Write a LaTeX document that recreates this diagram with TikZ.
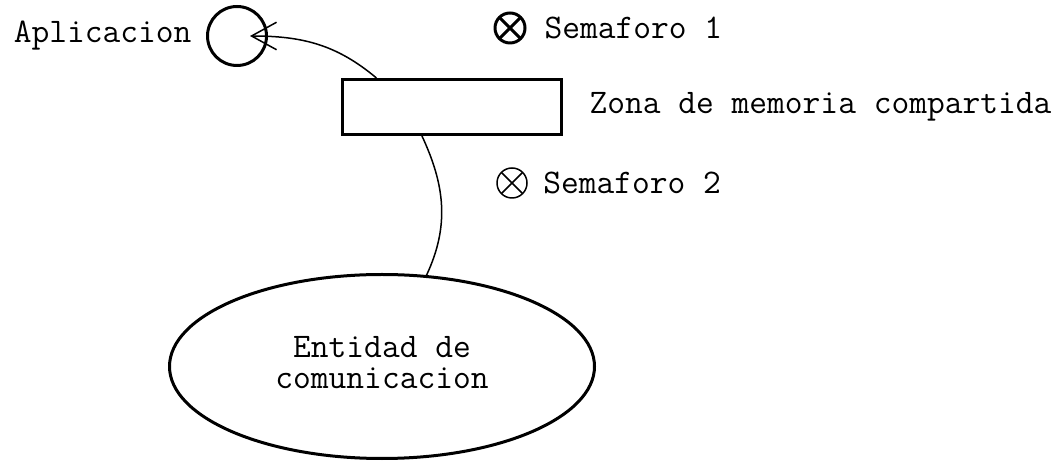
\documentclass[tikz,border=0pt]{standalone}
\usepackage{fontspec}
\usetikzlibrary{arrows.meta,positioning,shapes.geometric}

\begin{document}
\begin{tikzpicture}[-,>={Straight Barb[length=10pt,width=11pt]},x=1pt,y=1pt,
    font=\ttfamily\fontsize{13.8}{12.5}\selectfont,
    box/.style={draw, line width=1.2pt, inner sep=0pt},
    sema/.style={circle, draw, inner sep=0pt, minimum size=12pt,
      path picture={\draw[line width=#1]
        (path picture bounding box.south west) -- (path picture bounding box.north east)
        (path picture bounding box.north west) -- (path picture bounding box.south east);}},
    txt/.style={inner sep=4pt}]
  \useasboundingbox (0,0) rectangle (424.8,184.4);
  \node (app) [box, circle, minimum size=23.6pt]                          at (94.8,170) {};
  \node (mem) [box, rectangle, minimum width=87.6pt, minimum height=22pt] at (180.8,141.6) {};
  \node (ent) [box, ellipse, minimum width=170pt, minimum height=73.6pt,
               align=center]                                              at (152.8,37.8)
               {Entidad de\\comunicacion\vphantom{p}};
  \node (s1)  [sema=1.2pt, line width=1.2pt]                              at (204,173.2) {};
  \node (s2)  [sema=0.6pt, line width=0.6pt]                              at (204.8,111.2) {};
  \node (apptxt) [txt, left=1.6pt of app]   {Aplicacion};
  \node (memtxt) [txt, right=6.4pt of mem]  {Zona de memoria compartida};
  \node (s1txt)  [txt, right=3pt of s1]     {Semaforo 1};
  \node (s2txt)  [txt, right=2pt of s2]     {Semaforo 2};
  \coordinate (apptip) at ([xshift=5.2pt]app.center);
  \path[line width=0.6pt]
        (mem.159) edge [->, out=140, in=0]  (apptip)
        (mem.224) edge [out=-65, in=65]     (ent.64);
\end{tikzpicture}
\end{document}
